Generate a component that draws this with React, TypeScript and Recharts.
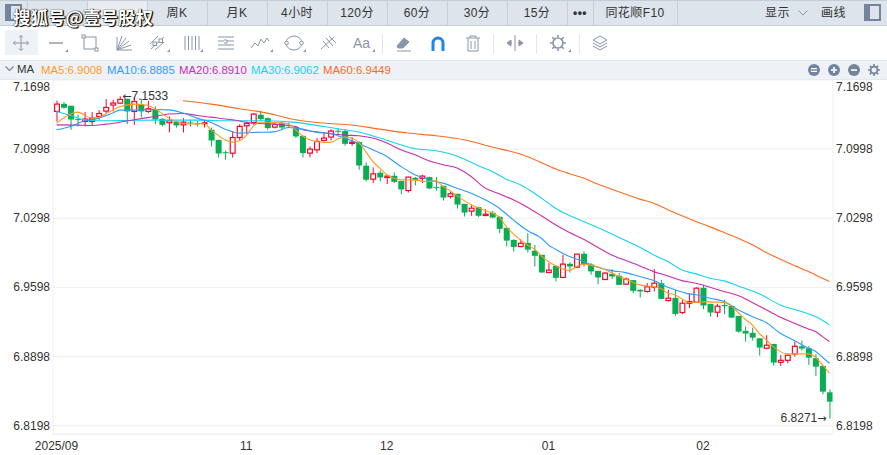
import React from "react";
import { ComposedChart, Bar, Line, XAxis, YAxis, CartesianGrid, ReferenceDot } from "recharts";

const opens = [7.1380,7.1457,7.1437,7.1302,7.1278,7.1278,7.1329,7.1383,7.1444,7.1464,
7.1508,7.1380,7.1451,7.1380,7.1403,7.1305,7.1265,7.1278,7.1244,7.1268,
7.1261,7.1255,7.1194,7.1092,7.0967,7.0957,7.1116,7.1234,7.1268,7.1346,
7.1312,7.1221,7.1265,7.1242,7.1221,7.1133,7.0958,7.0991,7.1086,7.1120,
7.1184,7.1181,7.1056,7.1069,7.0830,7.0694,7.0759,7.0711,7.0728,7.0677,
7.0579,7.0708,7.0701,7.0715,7.0613,7.0627,7.0519,7.0546,7.0444,7.0370,
7.0410,7.0326,7.0353,7.0312,7.0201,7.0079,7.0012,7.0049,6.9969,6.9928,
6.9749,6.9817,6.9699,6.9837,6.9803,6.9939,6.9830,6.9766,6.9678,6.9736,
6.9716,6.9631,6.9672,6.9574,6.9557,6.9601,6.9641,6.9465,6.9492,6.9344,
6.9438,6.9449,6.9594,6.9432,6.9347,6.9421,6.9411,6.9310,6.9158,6.9138,
6.9083,6.8982,6.9026,6.8840,6.8860,6.8925,6.9002,6.8982,6.8881,6.8803,6.8536];

const closes = [7.1454,7.1417,7.1298,7.1292,7.1302,7.1312,7.1359,7.1420,7.1464,7.1501,
7.1380,7.1481,7.1380,7.1407,7.1298,7.1244,7.1285,7.1238,7.1271,7.1258,
7.1251,7.1265,7.1086,7.0954,7.0957,7.1116,7.1228,7.1258,7.1353,7.1302,
7.1211,7.1248,7.1217,7.1231,7.1127,7.0958,7.0998,7.1076,7.1110,7.1181,
7.1174,7.1052,7.1069,7.0833,7.0688,7.0748,7.0711,7.0725,7.0667,7.0590,
7.0715,7.0688,7.0725,7.0600,7.0606,7.0508,7.0546,7.0437,7.0356,7.0400,
7.0323,7.0339,7.0306,7.0191,7.0072,7.0008,7.0045,6.9981,6.9918,6.9749,
6.9773,6.9695,6.9834,6.9810,6.9935,6.9827,6.9760,6.9699,6.9743,6.9709,
6.9624,6.9682,6.9563,6.9557,6.9604,6.9641,6.9482,6.9489,6.9330,6.9438,
6.9455,6.9590,6.9415,6.9344,6.9408,6.9408,6.9293,6.9151,6.9131,6.9090,
6.8989,6.9013,6.8837,6.8860,6.8911,6.9002,6.8979,6.8887,6.8796,6.8543,6.8441];

const highs = [7.1488,7.1474,7.1437,7.1346,7.1373,7.1373,7.1393,7.1505,7.1498,7.1533,
7.1508,7.1522,7.1508,7.1488,7.1430,7.1312,7.1329,7.1285,7.1312,7.1298,
7.1285,7.1295,7.1217,7.1092,7.0984,7.1177,7.1251,7.1278,7.1363,7.1386,
7.1319,7.1261,7.1271,7.1269,7.1228,7.1133,7.1025,7.1110,7.1160,7.1201,
7.1211,7.1201,7.1120,7.1076,7.0863,7.0813,7.0782,7.0735,7.0762,7.0677,
7.0718,7.0715,7.0738,7.0721,7.0715,7.0627,7.0569,7.0546,7.0444,7.0434,
7.0417,7.0390,7.0373,7.0319,7.0201,7.0086,7.0086,7.0147,7.0030,6.9928,
6.9844,6.9817,6.9928,6.9854,6.9935,6.9962,6.9844,6.9766,6.9753,6.9783,
6.9743,6.9699,6.9672,6.9580,6.9641,6.9783,6.9675,6.9574,6.9574,6.9472,
6.9540,6.9600,6.9624,6.9432,6.9432,6.9472,6.9418,6.9310,6.9202,6.9192,
6.9083,6.9114,6.9026,6.8915,6.8925,6.9050,6.9060,6.9006,6.8921,6.8803,6.8566];

const lows = [7.1278,7.1407,7.1194,7.1228,7.1228,7.1244,7.1295,7.1363,7.1380,7.1454,
7.1251,7.1244,7.1319,7.1363,7.1251,7.1228,7.1167,7.1217,7.1167,7.1228,
7.1228,7.1217,7.1025,7.0913,7.0890,7.0913,7.1082,7.1150,7.1244,7.1285,
7.1194,7.1207,7.1194,7.1211,7.1110,7.0914,7.0914,7.0958,7.1076,7.1086,
7.1143,7.1032,7.1032,7.0789,7.0671,7.0654,7.0671,7.0644,7.0654,7.0542,
7.0559,7.0630,7.0654,7.0593,7.0579,7.0478,7.0498,7.0397,7.0316,7.0323,
7.0309,7.0323,7.0299,7.0147,7.0012,6.9961,7.0005,6.9951,6.9810,6.9749,
6.9749,6.9658,6.9692,6.9749,6.9793,6.9810,6.9726,6.9631,6.9675,6.9682,
6.9624,6.9624,6.9540,6.9496,6.9547,6.9557,6.9482,6.9455,6.9310,6.9327,
6.9388,6.9442,6.9378,6.9303,6.9296,6.9327,6.9290,6.9141,6.9050,6.9060,
6.8908,6.8972,6.8806,6.8803,6.8830,6.8898,6.8958,6.8813,6.8702,6.8516,6.8271];

// moving averages at the candle index given first
const ma5Read: [number, number][] = [[0,7.1261],[2,7.1353],[3,7.1373],[5,7.1312],[6,7.1319],[7,7.1353],[9,7.1427],[11,7.1454],[13,7.1440],[14,7.1407],[16,7.1312],[18,7.1258],[20,7.1251],[21,7.1258],[22,7.1194],[24,7.1092],[25,7.1069],[26,7.1082],[27,7.1136],[28,7.1228],[29,7.1271],[31,7.1268],[33,7.1251],[34,7.1195],[35,7.1134],[36,7.1093],[38,7.1066],[39,7.1066],[40,7.1100],[41,7.1120],[42,7.1110],[43,7.1066],[44,7.0975],[45,7.0874],[46,7.0806],[47,7.0738],[48,7.0704],[49,7.0688],[51,7.0684],[52,7.0674],[53,7.0671],[54,7.0677],[55,7.0620],[56,7.0576],[57,7.0525],[59,7.0434],[61,7.0377],[63,7.0309],[64,7.0214],[65,7.0140],[67,7.0028],[68,6.9986],[69,6.9918],[70,6.9861],[71,6.9817],[72,6.9787],[73,6.9770],[74,6.9810],[75,6.9834],[76,6.9824],[78,6.9783],[80,6.9709],[81,6.9682],[83,6.9624],[85,6.9604],[86,6.9587],[87,6.9540],[88,6.9523],[89,6.9482],[90,6.9445],[91,6.9445],[92,6.9452],[93,6.9452],[95,6.9445],[96,6.9411],[97,6.9344],[98,6.9276],[99,6.9219],[100,6.9134],[101,6.9067],[102,6.8999],[103,6.8948],[104,6.8925],[106,6.8925],[107,6.8925],[108,6.8891],[109,6.8813],[110,6.8729]];
const ma10Read: [number, number][] = [[0,7.1194],[2,7.1228],[4,7.1285],[6,7.1312],[8,7.1363],[9,7.1393],[11,7.1393],[14,7.1400],[16,7.1396],[18,7.1363],[20,7.1312],[22,7.1268],[24,7.1200],[26,7.1160],[28,7.1167],[31,7.1173],[33,7.1217],[34,7.1211],[35,7.1201],[37,7.1168],[39,7.1154],[41,7.1110],[43,7.1053],[45,7.0992],[47,7.0924],[49,7.0823],[51,7.0738],[53,7.0688],[55,7.0654],[57,7.0603],[59,7.0552],[61,7.0485],[63,7.0400],[65,7.0282],[67,7.0174],[69,7.0096],[70,7.0028],[71,6.9985],[73,6.9910],[75,6.9860],[77,6.9802],[79,6.9768],[81,6.9748],[83,6.9708],[85,6.9667],[87,6.9599],[88,6.9574],[90,6.9533],[91,6.9523],[93,6.9489],[95,6.9455],[97,6.9371],[99,6.9303],[101,6.9242],[103,6.9134],[105,6.9060],[107,6.8982],[108,6.8952],[109,6.8891],[110,6.8830]];
const ma20Read: [number, number][] = [[0,7.1244],[3,7.1241],[5,7.1238],[7,7.1251],[9,7.1271],[11,7.1295],[14,7.1329],[16,7.1353],[18,7.1359],[20,7.1339],[22,7.1322],[25,7.1295],[28,7.1261],[31,7.1251],[34,7.1228],[35,7.1195],[37,7.1174],[39,7.1154],[41,7.1140],[43,7.1134],[45,7.1110],[47,7.1059],[49,7.0992],[51,7.0941],[53,7.0880],[55,7.0840],[57,7.0806],[59,7.0721],[61,7.0603],[63,7.0546],[65,7.0485],[67,7.0410],[69,7.0323],[71,7.0232],[73,7.0154],[75,7.0086],[77,7.0005],[79,6.9927],[81,6.9870],[83,6.9816],[85,6.9758],[87,6.9714],[89,6.9667],[91,6.9640],[93,6.9599],[95,6.9557],[97,6.9516],[99,6.9445],[101,6.9371],[103,6.9296],[105,6.9236],[107,6.9178],[108,6.9151],[109,6.9100],[110,6.9050]];
const ma30Read: [number, number][] = [[0,7.1380],[2,7.1339],[4,7.1295],[6,7.1285],[10,7.1288],[14,7.1292],[20,7.1292],[25,7.1285],[30,7.1285],[34,7.1269],[37,7.1239],[40,7.1205],[43,7.1171],[46,7.1110],[49,7.1042],[51,7.1002],[54,7.0982],[56,7.0951],[58,7.0897],[60,7.0830],[62,7.0772],[64,7.0694],[66,7.0637],[68,7.0552],[70,7.0451],[71,7.0400],[73,7.0326],[75,7.0265],[77,7.0204],[79,7.0140],[81,7.0073],[83,7.0005],[85,6.9927],[87,6.9860],[89,6.9775],[91,6.9735],[93,6.9691],[95,6.9664],[97,6.9613],[100,6.9533],[103,6.9421],[106,6.9354],[108,6.9303],[110,6.9219]];
const ma60Read: [number, number][] = [[18,7.1488],[22,7.1454],[26,7.1407],[30,7.1363],[34,7.1295],[38,7.1262],[42,7.1242],[46,7.1201],[50,7.1161],[54,7.1134],[58,7.1093],[62,7.1019],[66,7.0948],[70,7.0830],[71,7.0799],[73,7.0749],[75,7.0705],[77,7.0644],[79,7.0593],[81,7.0542],[83,7.0492],[85,7.0451],[87,7.0384],[89,7.0323],[91,7.0265],[93,7.0211],[95,7.0154],[97,7.0096],[99,7.0029],[101,6.9951],[103,6.9883],[105,6.9819],[107,6.9758],[109,6.9691],[110,6.9657]];

const priceTicks = [6.8198, 6.8898, 6.9598, 7.0298, 7.0998, 7.1698];
const monthTicks: [number, string][] = [[0, "2025/09"], [27, "11"], [47, "12"], [70, "01"], [92, "02"]];
const tabLabels: [string, number][] = [["周K",177],["月K",237],["4小时",297],["120分",357],["60分",417],["30分",477],["15分",537],["•••",580],["同花顺F10",635]];
const maLegend: [string, string, number][] = [["MA5:6.9008","#ff9a1e",41],["MA10:6.8885","#2e9bff",107],["MA20:6.8910","#c92db3",179],["MA30:6.9062","#12d3f2",251],["MA60:6.9449","#ff6a1e",323]];
const extremes = { high: { index: 9, value: 7.1533 }, low: { index: 110, value: 6.8271 } };

const GREEN = "#09ad52";
const RED = "#f5062c";
const DOMAIN: [number, number] = [6.8114, 7.1698];
const SANS = "'Liberation Sans', Arial, 'Noto Sans CJK SC', sans-serif";
const ICON = "#8a96aa";
const LW = 1.1;

const fill = (read: [number, number][]) => {
  const m = new Map(read);
  return (i: number) => (m.has(i) ? m.get(i)! : null);
};
const m5 = fill(ma5Read), m10 = fill(ma10Read), m20 = fill(ma20Read), m30 = fill(ma30Read), m60 = fill(ma60Read);
const rows = opens.map((o, i) => ({
  idx: String(i), open: o, close: closes[i], high: highs[i], low: lows[i],
  ma5: m5(i), ma10: m10(i), ma20: m20(i), ma30: m30(i), ma60: m60(i),
}));
const monthMap = new Map(monthTicks.map(([i, l]) => [String(i), l]));

const Candle = (p: any) => {
  const { x, y, width, height, payload } = p;
  const { open, close, high, low } = payload;
  const span = high - low || 1;
  const at = (v: number) => y + ((high - v) / span) * height;
  const up = close >= open;
  const cx = x + width / 2;
  const top = at(Math.max(open, close));
  const bot = at(Math.min(open, close));
  const color = up ? RED : GREEN;
  return (
    <g>
      <line x1={cx} x2={cx} y1={y} y2={y + height} stroke={color} strokeWidth={1} />
      {up ? (
        <rect x={x + 0.6} y={top} width={width - 1.2} height={Math.max(bot - top, 1)} fill="#fff" stroke={color} strokeWidth={1.2} />
      ) : (
        <rect x={x} y={top} width={width} height={Math.max(bot - top, 1)} fill={color} />
      )}
    </g>
  );
};

const LeftTick = (p: any) => {
  const v = p.payload.value;
  const dy = v === 7.1698 ? 7 : 0;
  return <text x={50} y={p.y + dy + 4} textAnchor="end" fontSize={12} fontFamily={SANS} fill="#333">{v.toFixed(4)}</text>;
};
const RightTick = (p: any) => {
  const v = p.payload.value;
  const dy = v === 7.1698 ? 7 : 0;
  return <text x={836} y={p.y + dy + 4} textAnchor="start" fontSize={12} fontFamily={SANS} fill="#333">{v.toFixed(4)}</text>;
};

const Ico = ({ x, w = 20, children }: { x: number; w?: number; children: React.ReactNode }) => (
  <svg width={w} height={20} viewBox={`0 0 ${w} 20`} style={{ position: "absolute", left: x, top: 33 }} fill="none" stroke={ICON} strokeWidth={1}>
    {children}
  </svg>
);
const Corner = ({ x }: { x: number }) => (
  <div style={{ position: "absolute", left: x, top: 49, width: 0, height: 0, borderLeft: "3px solid transparent", borderBottom: "3px solid " + ICON }} />
);
const PanelIcon = ({ x }: { x: number }) => (
  <div style={{ position: "absolute", left: x, top: 4, width: 13, height: 13, border: "2px solid #73849c", boxSizing: "content-box" }}>
    <div style={{ width: 4, height: 13, background: "#73849c" }} />
  </div>
);
const Round = ({ x, sym }: { x: number; sym: "minus2" | "plus" | "minus" }) => (
  <svg width={12} height={12} viewBox="0 0 12 12" style={{ position: "absolute", left: x, top: 64 }}>
    <circle cx={6} cy={6} r={6} fill="#73849c" />
    {sym === "minus2" && <path d="M3 4.6h6M3 7.4h6" stroke="#fff" strokeWidth={1.2} />}
    {sym === "plus" && <path d="M3 6h6M6 3v6" stroke="#fff" strokeWidth={1.6} />}
    {sym === "minus" && <path d="M3 6h6" stroke="#fff" strokeWidth={1.6} />}
  </svg>
);
const Arrow = ({ ch }: { ch: string }) => <tspan fontFamily="'DejaVu Sans', sans-serif" fontSize={11}>{ch}</tspan>;

export default function App() {
  return (
    <div style={{ position: "absolute", left: 0, top: 0, width: 887, height: 455, background: "#fff", overflow: "hidden", fontFamily: SANS, color: "#333" }}>
      {/* tab bar */}
      <div style={{ position: "absolute", left: 0, top: 0, width: 887, height: 25, background: "#dee4eb", borderTop: "1px solid #c3cdd8", boxSizing: "border-box" }} />
      <div style={{ position: "absolute", left: 87, top: 1, width: 60, height: 24, background: "#e9edf2" }} />
      <div style={{ position: "absolute", left: 0, top: 25, width: 887, height: 1, background: "#c3cdd8" }} />
      {[27, 87, 147, 207, 267, 327, 387, 447, 507, 567, 593, 677].map((x) => (
        <div key={x} style={{ position: "absolute", left: x, top: 0, width: 1, height: 25, background: "#c6d0da" }} />
      ))}
      {tabLabels.map(([t, cx]) => (
        <div key={t} style={{ position: "absolute", left: cx - 40, width: 80, top: 5, textAlign: "center", fontSize: 12, lineHeight: "16px", letterSpacing: 0.4, color: "#333", fontWeight: t === "•••" ? 700 : 400 }}>{t}</div>
      ))}
      <div style={{ position: "absolute", left: 765, top: 5, fontSize: 12, lineHeight: "16px", letterSpacing: 0.5 }}>显示</div>
      <svg width={10} height={6} style={{ position: "absolute", left: 798, top: 10 }} fill="none" stroke={ICON} strokeWidth={1}><path d="M0.5 0.5 L5 5 L9.5 0.5" /></svg>
      <div style={{ position: "absolute", left: 821, top: 5, fontSize: 12, lineHeight: "16px", letterSpacing: 0.5 }}>画线</div>
      <PanelIcon x={5} />
      <PanelIcon x={864} />

      {/* drawing tool bar */}
      <div style={{ position: "absolute", left: 5, top: 30, width: 33, height: 25, background: "#eef2f6" }} />
      <Ico x={11}><path d="M10 2.5v15M2.5 10h15M8 4.5L10 2.5l2 2M8 15.5L10 17.5l2-2M4.5 8L2.5 10l2 2M15.5 8L17.5 10l-2 2" /></Ico>
      <Ico x={48}><path d="M1 10h14" strokeWidth={1.4} /></Ico><Corner x={65} />
      <Ico x={80}><rect x={4} y={4} width={12} height={12} /><rect x={2} y={2} width={3} height={3} fill="#fff" /><rect x={15} y={15} width={3} height={3} fill="#fff" /></Ico>
      <Ico x={114}><path d="M3 17V4M3 17L8 3M3 17L12 5M3 17L15 8M3 17L17 12M3 17H18" /></Ico>
      <Ico x={148}><path d="M3 16L16 4M2 11L10 3M7 17L16 9" /><rect x={5} y={9} width={3.5} height={3.5} fill="#fff" /><rect x={11} y={6} width={3.5} height={3.5} fill="#fff" /></Ico><Corner x={167} />
      <Ico x={183}><path d="M2 3v14M5.5 3v14M9 3v14M12.5 3v14M16 3v14" /></Ico><Corner x={200} />
      <Ico x={216}><path d="M2 4h16M2 8h6M11 8h7M2 12h16M2 16h16" /><path d="M8 7h3v3H8" /></Ico>
      <Ico x={250}><path d="M1 15L5 10L8 13L11 6L14 10L17 5L19 8" /></Ico><Corner x={270} />
      <Ico x={284}><ellipse cx={10} cy={10} rx={8} ry={7} /><circle cx={2.5} cy={10} r={1.8} fill="#fff" /><circle cx={17.5} cy={10} r={1.8} fill="#fff" /></Ico><Corner x={303} />
      <Ico x={318}><path d="M3 16L16 4M5 8L11 15M8 5L15 13M11 3L18 10" /></Ico>
      <div style={{ position: "absolute", left: 353, top: 34, fontSize: 14, lineHeight: "18px", color: ICON }}>Aa</div><Corner x={372} />
      <div style={{ position: "absolute", left: 382, top: 34, width: 1, height: 20, background: "#e3e7ec" }} />
      <Ico x={394}><path d="M3 13L10 5L15 9L9 15H4Z" fill={ICON} /><path d="M3 18H17" /></Ico>
      <svg width={14} height={16} style={{ position: "absolute", left: 431, top: 35 }} fill="none" stroke="#1a86ee" strokeWidth={3}><path d="M2 16V8a5 5 0 0 1 10 0V16" /></svg>
      <Ico x={463}><path d="M3 5h14M7 5V3h6v2M5 5v13h10V5M8 8v8M12 8v8" /></Ico>
      <div style={{ position: "absolute", left: 493, top: 34, width: 1, height: 20, background: "#e3e7ec" }} />
      <Ico x={505}><path d="M10 2v16M3 10h4M13 10h4" /><path d="M2 10l4-3v6zM18 10l-4-3v6z" fill={ICON} /></Ico>
      <div style={{ position: "absolute", left: 536, top: 34, width: 1, height: 20, background: "#e3e7ec" }} />
      <Ico x={548}><circle cx={10} cy={10} r={5} strokeWidth={1.7} /><path d="M10 2v2.5M10 15.5V18M2 10h2.5M15.5 10H18M4.3 4.3l1.8 1.8M13.9 13.9l1.8 1.8M4.3 15.7l1.8-1.8M13.9 6.1l1.8-1.8" strokeWidth={1.6} /></Ico><Corner x={568} />
      <div style={{ position: "absolute", left: 579, top: 34, width: 1, height: 20, background: "#e3e7ec" }} />
      <Ico x={590}><path d="M10 3l7 4-7 4-7-4zM3 10l7 4 7-4M3 13l7 4 7-4" /></Ico>

      {/* indicator legend row */}
      <div style={{ position: "absolute", left: 0, top: 60, width: 887, height: 20, background: "#eef2f6", borderTop: "1px solid #e4e8ed", borderBottom: "1px solid #e4e8ed", boxSizing: "border-box" }} />
      <svg width={10} height={6} style={{ position: "absolute", left: 5, top: 66 }} fill="none" stroke="#73849c" strokeWidth={1.2}><path d="M0.5 0.5 L4.5 4.5 L8.5 0.5" /></svg>
      <div style={{ position: "absolute", left: 17, top: 62, fontSize: 11.4, lineHeight: "15px", color: "#333" }}>MA</div>
      {maLegend.map(([t, c, x]) => (
        <div key={t} style={{ position: "absolute", left: x, top: 62, fontSize: 11.4, lineHeight: "16px", color: c }}>{t}</div>
      ))}
      <Round x={808} sym="minus2" />
      <Round x={828} sym="plus" />
      <Round x={848} sym="minus" />
      <svg width={12} height={12} viewBox="0 0 12 12" style={{ position: "absolute", left: 868, top: 64 }} fill="none" stroke="#73849c">
        <circle cx={6} cy={6} r={3.4} strokeWidth={1.8} />
        <path d="M6 0v2.2M6 9.8V12M0 6h2.2M9.8 6H12M1.8 1.8l1.6 1.6M8.6 8.6l1.6 1.6M1.8 10.2l1.6-1.6M8.6 3.4l1.6-1.6" strokeWidth={1.6} />
      </svg>

      {/* chart */}
      <div style={{ position: "absolute", left: 0, top: 0 }}>
        <ComposedChart width={887} height={455} data={rows} margin={{ top: 80, right: 0, bottom: 0, left: 0 }} barCategoryGap={0}>
          <CartesianGrid vertical={false} stroke="#efefef" strokeWidth={1} />
          <XAxis
            dataKey="idx"
            type="category"
            height={21}
            ticks={monthTicks.map(([i]) => String(i))}
            interval={0}
            tickLine={false}
            axisLine={{ stroke: "#efefef" }}
            tick={{ fontSize: 12, fontFamily: SANS, fill: "#333" }}
            tickMargin={1}
            tickFormatter={(v: string) => monthMap.get(v) ?? ""}
          />
          <YAxis
            type="number"
            domain={DOMAIN}
            allowDataOverflow
            ticks={priceTicks}
            width={53}
            interval={0}
            tickLine={false}
            axisLine={{ stroke: "#efefef" }}
            tick={LeftTick}
          />
          <YAxis
            yAxisId="right"
            orientation="right"
            type="number"
            domain={DOMAIN}
            allowDataOverflow
            ticks={priceTicks}
            width={54}
            interval={0}
            tickLine={false}
            axisLine={{ stroke: "#efefef" }}
            tick={RightTick}
          />
          <Bar dataKey={(d: any) => [d.low, d.high]} barSize={6} shape={Candle} isAnimationActive={false} />
          <Line dataKey="ma60" type="monotone" stroke="#ff6a1e" strokeWidth={LW} dot={false} connectNulls isAnimationActive={false} />
          <Line dataKey="ma30" type="monotone" stroke="#12d3f2" strokeWidth={LW} dot={false} connectNulls isAnimationActive={false} />
          <Line dataKey="ma20" type="monotone" stroke="#c92db3" strokeWidth={LW} dot={false} connectNulls isAnimationActive={false} />
          <Line dataKey="ma10" type="monotone" stroke="#2e9bff" strokeWidth={LW} dot={false} connectNulls isAnimationActive={false} />
          <Line dataKey="ma5" type="monotone" stroke="#ff9a1e" strokeWidth={LW} dot={false} connectNulls isAnimationActive={false} />
          <ReferenceDot
            x={String(extremes.high.index)}
            y={extremes.high.value}
            r={0}
            shape={(p: any) => <text x={p.cx + 2.5} y={p.cy + 4} fontSize={12} fontFamily={SANS} fill="#333"><Arrow ch="←" />{extremes.high.value.toFixed(4)}</text>}
          />
          <ReferenceDot
            x={String(extremes.low.index)}
            y={extremes.low.value}
            r={0}
            shape={(p: any) => <text x={p.cx - 3} y={p.cy + 4} textAnchor="end" fontSize={12} fontFamily={SANS} fill="#333">{extremes.low.value.toFixed(4)}<Arrow ch="→" /></text>}
          />
        </ComposedChart>
      </div>

      {/* watermark */}
      <div style={{ position: "absolute", left: 13, top: 6, fontFamily: "'Noto Sans CJK SC', sans-serif", fontSize: 17.5, lineHeight: "22px", fontWeight: 700, color: "#fff", whiteSpace: "nowrap", textShadow: "1px 1px 1px #000, 0 0 1px #000, 1px 0 1px #000" }}>搜狐号@壹号股权</div>
    </div>
  );
}
